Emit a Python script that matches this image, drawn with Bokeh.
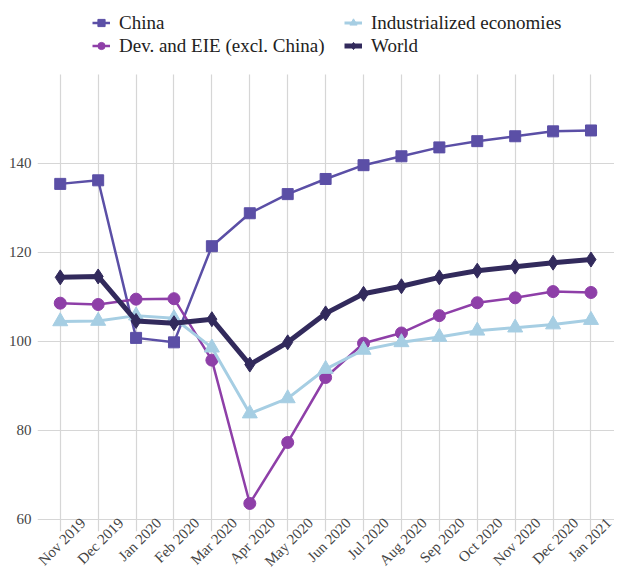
from bokeh.plotting import figure
from bokeh.models import (Legend, LegendItem, FixedTicker, Range1d, LinearAxis,
                          CustomJSTickFormatter, Grid, BoxAnnotation)
from bokeh.embed import file_html
from bokeh.resources import INLINE

months = ["Nov 2019", "Dec 2019", "Jan 2020", "Feb 2020", "Mar 2020", "Apr 2020",
          "May 2020", "Jun 2020", "Jul 2020", "Aug 2020", "Sep 2020", "Oct 2020",
          "Nov 2020", "Dec 2020", "Jan 2021"]
china = [135.4, 136.2, 100.8, 99.8, 121.4, 128.8, 133.1, 136.5, 139.6, 141.6,
         143.6, 145.0, 146.1, 147.2, 147.4]
dev_eie = [108.6, 108.3, 109.5, 109.6, 95.8, 63.6, 77.3, 91.9, 99.6, 101.9,
           105.8, 108.7, 109.8, 111.2, 111.0]
industrialized = [104.5, 104.6, 105.8, 105.2, 98.6, 83.8, 87.2, 93.8, 98.1, 99.8,
                  101.0, 102.4, 103.1, 103.8, 104.8]
world = [114.4, 114.6, 104.6, 104.1, 105.0, 94.8, 99.8, 106.3, 110.7, 112.4,
         114.4, 115.9, 116.8, 117.7, 118.4]
y_ticks = [60, 80, 100, 120, 140]

x = list(range(len(months)))
FONT = "Liberation Serif"
LABEL_SHIFT = 0.6
Y_MIN, Y_PANEL_TOP, Y_MAX = 57.3, 160.0, 176.6

p = figure(width=614, height=578, output_backend="svg", toolbar_location=None,
           x_range=Range1d(-0.6, 14.62), y_range=Range1d(Y_MIN, Y_MAX),
           x_axis_location=None,
           min_border_left=37, min_border_right=0, min_border_top=0, min_border_bottom=0)
p.outline_line_color = None
p.background_fill_color = "white"

p.extra_x_ranges = {"labels": Range1d(-0.6 - LABEL_SHIFT, 14.62 - LABEL_SHIFT)}
xaxis = LinearAxis(x_range_name="labels", ticker=FixedTicker(ticks=x),
                   formatter=CustomJSTickFormatter(args=dict(months=months),
                                                   code="return months[Math.round(tick)] || '';"))
p.add_layout(xaxis, "below")

for ax in (xaxis, p.yaxis[0]):
    ax.axis_line_color = None
    ax.major_tick_line_color = None
    ax.minor_tick_line_color = None
    ax.major_tick_out = 0
    ax.major_tick_in = 0
    ax.minor_tick_out = 0
    ax.minor_tick_in = 0
    ax.major_label_text_font = FONT
    ax.major_label_text_font_size = "15px"
    ax.major_label_text_color = "#444444"

xaxis.major_label_orientation = 0.785398
xaxis.major_label_standoff = -11
p.yaxis.ticker = FixedTicker(ticks=y_ticks)
p.yaxis.major_label_standoff = 6

p.xgrid.ticker = FixedTicker(ticks=x)
p.ygrid.ticker = FixedTicker(ticks=y_ticks)
for g in (p.xgrid[0], p.ygrid[0]):
    g.grid_line_color = "#d6d6d6"
    g.grid_line_width = 1.2

if "cross_bounds" in Grid.properties():
    p.xgrid[0].cross_bounds = (Y_MIN, Y_PANEL_TOP)
else:
    p.add_layout(BoxAnnotation(bottom=Y_PANEL_TOP, fill_color="white", fill_alpha=1,
                               line_color=None, level="underlay"))

c_china = "#5B4FA6"
c_dev = "#8E3FA8"
c_ind = "#A6CEE3"
c_world = "#322A5C"

l1 = p.line(x, china, line_color=c_china, line_width=2.5)
m1 = p.scatter(x, china, marker="square", size=11, color=c_china)
l2 = p.line(x, dev_eie, line_color=c_dev, line_width=2.5)
m2 = p.scatter(x, dev_eie, marker="circle", size=12, color=c_dev)
l3 = p.line(x, industrialized, line_color=c_ind, line_width=3)
m3 = p.scatter(x, industrialized, marker="triangle", size=15, color=c_ind)
l4 = p.line(x, world, line_color=c_world, line_width=5)
m4 = p.scatter(x, world, marker="diamond", size=15, color=c_world)

legend = Legend(items=[
    LegendItem(label="China", renderers=[l1, m1]),
    LegendItem(label="Dev. and EIE (excl. China)", renderers=[l2, m2]),
    LegendItem(label="Industrialized economies", renderers=[l3, m3]),
    LegendItem(label="World", renderers=[l4, m4]),
], location=(55, 474), orientation="vertical", ncols=2)
legend.label_text_font = FONT
legend.label_text_font_size = "19px"
legend.label_text_color = "#222222"
legend.border_line_color = None
legend.background_fill_alpha = 0
legend.glyph_width = 18
legend.glyph_height = 23
legend.label_height = 23
legend.label_width = 225
legend.spacing = 0
legend.padding = 0
legend.margin = 0
legend.label_standoff = 9
p.add_layout(legend, "center")

open("out.html", "w").write(file_html(p, INLINE))
